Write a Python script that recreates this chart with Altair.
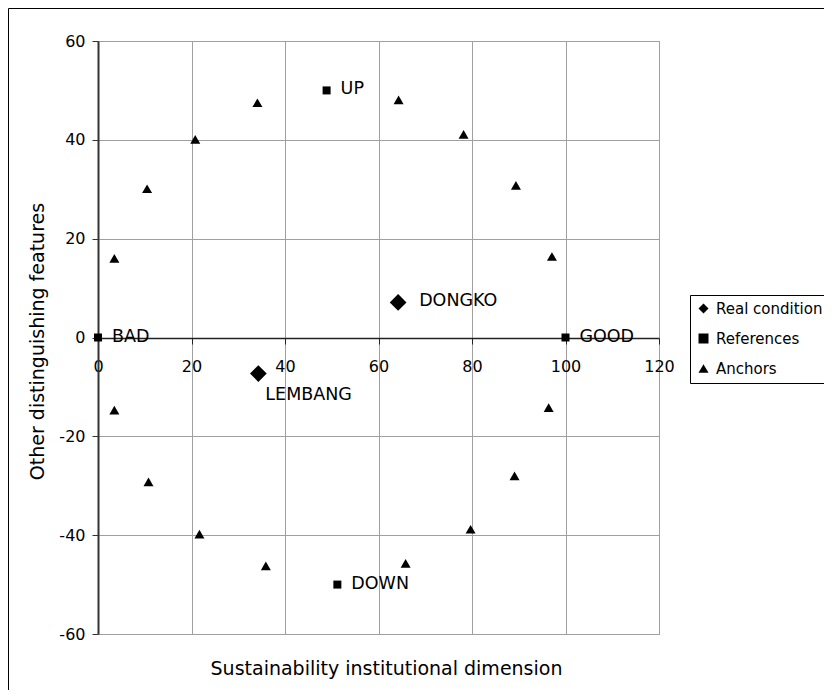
import altair as alt
import pandas as pd

# ---- data ----
series_names = ["Real condition", "References", "Anchors"]
series_shapes = ["diamond", "square", "triangle-up"]

anchor_x = [3.5, 10.5, 20.8, 34.1, 64.3, 78.2, 89.4, 97.1,
            3.5, 10.8, 21.7, 35.9, 65.8, 79.7, 89.1, 96.4]
anchor_y = [16.0, 30.1, 40.1, 47.5, 48.1, 41.1, 30.8, 16.4,
            -14.7, -29.2, -39.8, -46.2, -45.7, -38.8, -28.0, -14.2]

ref_names = ["BAD", "GOOD", "UP", "DOWN"]
ref_x = [0, 100, 48.9, 51.2]
ref_y = [0, 0, 50, -50]

real_names = ["DONGKO", "LEMBANG"]
real_x = [64.2, 34.3]
real_y = [7.1, -7.3]

x_ticks = [0, 20, 40, 60, 80, 100, 120]
y_ticks = [-60, -40, -20, 0, 20, 40, 60]

x_title = "Sustainability institutional dimension"
y_title = "Other distinguishing features"

anchors = pd.DataFrame({"x": anchor_x, "y": anchor_y, "series": "Anchors"})
refs = pd.DataFrame({"x": ref_x, "y": ref_y, "name": ref_names, "series": "References"})
reals = pd.DataFrame({"x": real_x, "y": real_y, "name": real_names, "series": "Real condition"})

FONT = "DejaVu Sans"
W, H = 561, 593

xscale = alt.Scale(domain=[0, 120], nice=False, zero=False)
yscale = alt.Scale(domain=[-60, 60], nice=False, zero=False)
shape_scale = alt.Scale(domain=series_names, range=series_shapes)

x_axis = alt.Axis(
    values=x_ticks, offset=-296, grid=True, gridColor="#a0a0a0", gridWidth=1,
    domainColor="#222222", domainWidth=1.5, tickColor="#222222", tickSize=6,
    labelFont=FONT, labelFontSize=16, labelColor="black", labelPadding=14,
    labelFlush=False,
    title=x_title, titleFont=FONT, titleFontSize=19, titleFontWeight="normal",
    titleColor="black", titleX=288, titleY=330, titleAlign="center",
    titleBaseline="middle", titleAngle=0,
)
y_axis = alt.Axis(
    values=y_ticks, grid=True, gridColor="#a0a0a0", gridWidth=1,
    domainColor="#333333", domainWidth=2, tickColor="#333333", tickSize=6,
    labelFont=FONT, labelFontSize=16, labelColor="black", labelPadding=7,
    labelExpr="'' + datum.value", labelFlush=False,
    title=y_title, titleFont=FONT, titleFontSize=19, titleFontWeight="normal",
    titleColor="black", titleX=-61, titleY=300, titleAlign="center",
    titleBaseline="middle", titleAngle=-90,
)

legend = alt.Legend(
    title=None, orient="none", legendX=592, legendY=254,
    strokeColor="black", fillColor="white", padding=6, rowPadding=14,
    labelFont=FONT, labelFontSize=15, labelColor="black", labelOffset=5,
    symbolSize=100, symbolFillColor="black", symbolStrokeWidth=0,
    symbolType="circle",
)

frame = alt.Chart(pd.DataFrame({"v": [0]})).mark_rect(
    fillOpacity=0, stroke="black", strokeWidth=1
).encode(
    x=alt.value(-89.5), x2=alt.value(800), y=alt.value(-32.5), y2=alt.value(800)
)

def pts(df, size):
    return alt.Chart(df).mark_point(filled=True, opacity=1, color="black").encode(
        x=alt.X("x:Q", scale=xscale, axis=x_axis),
        y=alt.Y("y:Q", scale=yscale, axis=y_axis),
        shape=alt.Shape("series:N", scale=shape_scale, legend=legend),
        size=alt.value(size),
    )

anchor_pts = pts(anchors, 100)
ref_pts = pts(refs, 64)
real_pts = pts(reals, 280)

def labels(df, dx, dy):
    return alt.Chart(df).mark_text(
        align="left", baseline="middle", dx=dx, dy=dy,
        font=FONT, fontSize=17.5, color="black"
    ).encode(x=alt.X("x:Q", scale=xscale), y=alt.Y("y:Q", scale=yscale), text="name:N")

ref_labels = labels(refs, 14, -1)
dongko_label = labels(reals, 21, -1).transform_filter(alt.datum.name == "DONGKO")
lembang_label = labels(reals, 7, 21).transform_filter(alt.datum.name == "LEMBANG")

chart = alt.layer(
    frame, anchor_pts, ref_pts, real_pts, ref_labels, dongko_label, lembang_label
).properties(
    width=W, height=H,
    autosize=alt.AutoSizeParams(type="none"),
    padding={"left": 90, "top": 33, "right": 165, "bottom": 56},
    background="white",
).configure_view(
    stroke="#9a9a9a", strokeWidth=1
)

chart.save("out.html", embed_options={"renderer": "svg", "actions": False})
